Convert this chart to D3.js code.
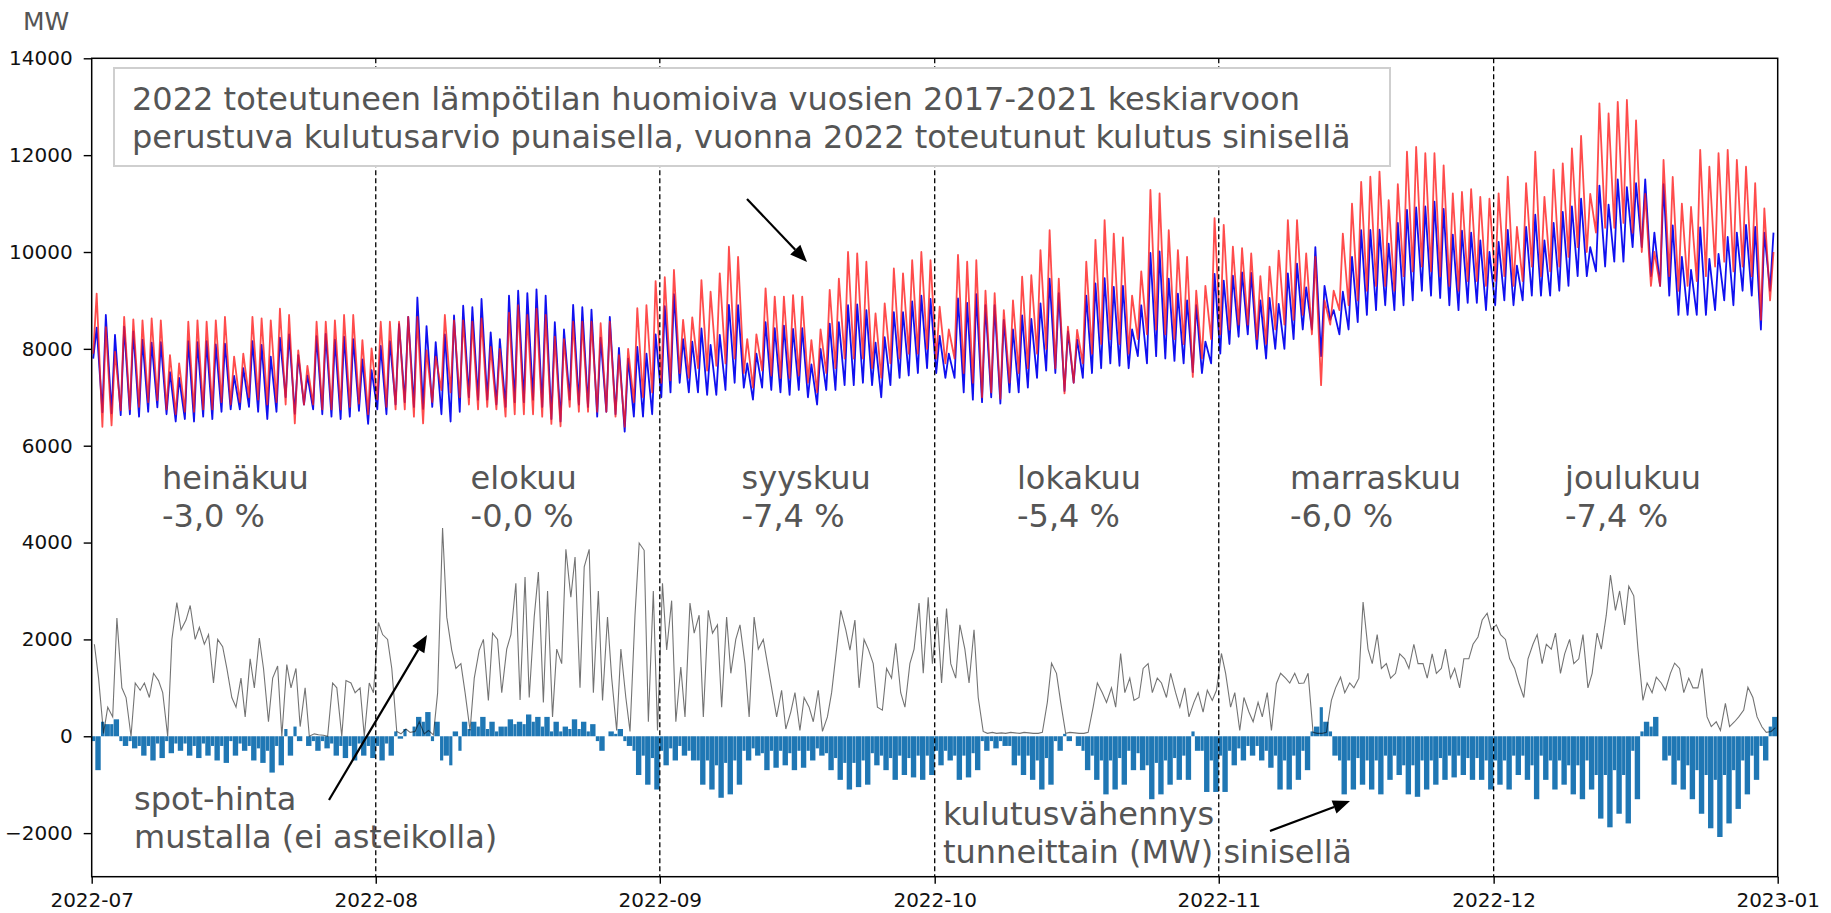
<!DOCTYPE html>
<html>
<head>
<meta charset="utf-8">
<script src="https://cdn.jsdelivr.net/npm/d3@7"></script>
<style>
  body { margin: 0; background: #fff; }
  svg { display: block; }
  text { font-family: "DejaVu Sans", Verdana, sans-serif; }
</style>
</head>
<body>
<svg id="chart" width="1831" height="913"></svg>
<script>
// ---- Data: one entry per day from 2022-07-01 to 2022-12-31 (MW) ----
// Estimate (red): night trough and daytime peak of each day
const estimateLow = [
  7900,6390,6420,6730,6750,6800,6900,6940,6750,6650,6700,6700,6750,6750,6900,6850,6900,7000,6950,6850,6900,6850,6460,6850,6850,6750,6750,6750,6800,6870,6650,
  6950,6800,6750,6750,6600,6460,6900,7150,7100,7000,6850,6750,6800,6750,6600,6650,6650,6650,6600,6450,6400,6800,6700,6700,6700,6700,6600,6390,6900,7000,7100,
  7300,7350,7500,7400,7600,7550,7650,7700,7800,7500,7200,7550,7450,7400,7400,7450,7300,7100,7500,7600,7800,7800,7800,7600,7400,7700,7800,7900,7900,8000,
  7800,7700,7800,7500,7300,7000,7100,6970,7300,7500,7600,7900,8000,7600,7080,7300,7700,7900,8100,8200,8100,7900,8200,8300,8400,8300,8200,8100,7420,7800,8200,
  8300,8400,8500,8500,8200,8100,8400,8500,8600,8700,8300,7250,8500,8800,8900,9000,9200,9300,9300,9200,9500,9600,9700,9600,9500,9300,9200,9400,9400,9300,
  9400,9500,9300,9400,9700,9500,9600,9700,9900,10100,10000,10400,10500,10500,10600,10400,10000,9300,9300,9500,9200,9300,9400,9500,9700,9800,9600,9700,9500,8600,9000
];
const estimateHigh = [
  9140,8450,7940,8660,8610,8590,8630,8590,7870,7700,8560,8590,8560,8590,8660,7840,7900,8660,8630,8590,8830,8700,7970,7650,8560,8560,8590,8700,8700,8180,8010,
  8560,8560,8560,8660,8660,7970,7840,8700,8590,8590,8560,8630,8040,8000,8750,8900,8700,8830,8700,8250,8200,8560,8560,8560,8530,8560,7870,8000,8840,8900,9400,
  9480,9630,8600,8650,9420,9180,9560,10110,9900,8200,8300,9250,9080,9080,9110,9080,8180,8400,9220,9450,10000,9970,9800,8730,8940,9660,9560,9830,10000,9830,
  8870,8400,9940,9800,9830,9200,9150,8800,9000,9490,9520,10040,10450,9450,8460,8390,9800,10250,10660,10380,10300,9100,9600,11280,11210,10450,10040,9900,9200,9300,10700,
  10560,10110,10080,9970,9500,9700,10030,10660,10660,9970,9900,9000,9200,10380,11000,11450,11555,11660,11070,11400,12070,12170,12040,12040,11790,11210,11240,11300,11140,11100,
  11210,11555,10520,11420,12070,11140,11700,11830,12140,12400,11200,13070,12860,13100,13140,12720,11200,10000,11900,11550,11000,10930,12110,11760,12040,12110,11900,11760,11420,10900,10000
];
// Actual consumption (blue): night trough and daytime peak of each day
const actualLow = [
  7800,6690,6670,6630,6650,6600,6700,6790,6650,6500,6550,6500,6600,6550,6700,6750,6750,6800,6700,6550,6700,7000,6660,6850,6750,6650,6600,6550,6600,6720,6450,
  6750,6650,6850,6900,6800,6760,6800,6650,6500,6700,7000,6950,6950,6850,6800,6900,6900,6950,6800,6550,6500,6950,6850,6800,6600,6700,6650,6290,6600,6600,6650,
  7000,7100,7300,7100,7100,7050,7050,7150,7300,7200,6950,7200,7150,7100,7050,7150,7000,6850,7150,7150,7250,7250,7300,7250,7000,7250,7400,7450,7500,7600,
  7500,7400,7400,7100,6950,6900,7000,6870,7100,7100,7200,7400,7550,7500,7130,7300,7400,7500,7600,7700,7650,7600,7850,7700,7850,7800,7750,7700,7520,7500,7700,
  7900,8100,8250,8300,8000,7800,8000,8000,8200,8400,8400,7850,8600,8300,8400,8550,8700,8800,8900,8800,8900,9000,9200,9100,9050,8900,8800,8950,8950,8800,
  8900,9000,8900,9000,9100,9100,9100,9200,9300,9500,9500,9600,9700,9800,9800,10100,10100,9500,9300,9100,8700,8700,8700,8700,8800,9000,8900,9200,9100,8400,9200
];
const actualHigh = [
  8440,8700,8290,8460,8360,8190,8130,8140,7520,7400,8160,8140,8160,8090,8110,7440,7600,8160,8080,7840,8230,8300,7870,7450,8260,8310,8190,8250,8200,7780,7560,
  8060,8160,8510,8660,9060,8470,8140,8300,8690,8890,8860,9030,8340,8200,9100,9200,9150,9230,9100,8550,8400,8910,8860,8810,8230,8660,8020,7800,8040,7900,8300,
  8880,9130,8200,8150,8420,8080,8290,8910,8900,7700,7900,8550,8430,8480,8410,8430,7680,8000,8520,8550,8900,8920,8800,8130,8240,8760,8760,8980,9100,9030,
  8270,7900,9040,8950,9130,8900,8900,8600,8400,8690,8620,8940,9450,9150,8360,8190,9100,9350,9460,9280,9300,8400,8900,9980,10010,9450,9140,9000,8900,8150,9550,
  9410,9510,9580,9570,9000,9050,8930,9560,9760,9270,10100,9300,8800,9180,9900,10450,10455,10460,10170,10600,10870,10920,10940,11040,10890,10360,10440,10400,10240,10000,
  10210,10455,9720,10520,10770,10240,10600,10830,10940,11100,10100,11370,10980,11500,11340,11420,11500,10400,11400,10550,9900,9630,10510,9860,9960,10310,10400,10560,10520,10400,10400
];
// Spot price, drawn on the MW scale (not to scale): night and afternoon level of each day
const spotNight = [
  1900,60,400,1000,0,950,800,1150,0,2760,2400,2000,1900,1100,1850,800,1200,1600,2030,300,1450,1480,1400,1000,50,20,1100,0,1100,1000,1100,
  2350,2000,100,150,100,50,30,4300,1780,1500,120,1780,740,2000,1800,3160,3290,2460,700,400,1500,2870,1000,3860,3000,2460,120,800,2500,3840,3000,
  3160,2800,1430,2750,2500,2600,2300,2460,2000,1500,2460,2000,900,950,500,120,600,950,400,1800,2200,2400,2000,1500,540,1200,900,1500,2750,2870,
  2460,2640,1200,1800,2200,100,80,70,80,60,70,60,700,1300,60,70,60,600,900,1000,1710,1200,800,1500,1200,800,900,1000,700,500,740,
  1710,600,120,500,700,900,1090,1200,1300,1100,80,60,740,1220,1100,1200,1800,2100,1500,1300,1600,1900,1500,1700,1400,1200,1000,1600,2050,2540,
  2300,2000,1400,800,1900,1500,1800,1300,2000,1600,1000,2130,2500,2600,2300,2900,740,900,1100,1300,1400,1200,1000,400,300,680,300,540,800,190,100
];
const spotDay = [
  1200,600,2440,800,1100,1100,1300,900,2000,2200,2700,2250,2100,2000,1400,600,400,1000,1400,1200,0,1000,200,0,30,0,1000,1150,900,0,900,
  2100,1400,50,80,300,120,890,2460,1400,900,1200,2000,2130,900,2100,750,800,3390,3000,1800,3860,3700,3500,900,740,1200,1800,100,3990,300,120,
  1780,300,400,2130,400,2130,600,1300,2300,400,1800,1500,400,150,900,800,300,100,900,2600,1780,1000,1800,600,1400,1920,600,1800,1300,1500,
  1100,1500,2300,1100,800,60,60,60,70,80,60,80,1510,700,80,60,80,1100,700,600,900,740,1400,900,1100,1300,600,400,900,950,950,
  1300,900,800,300,400,120,1300,1100,1090,1300,60,80,1000,900,1000,2770,1500,1400,1200,1700,1400,1500,1200,1300,1800,1400,1600,1900,2400,2200,
  2100,1600,1100,1600,2100,1900,2130,1700,1500,2100,1300,1800,3330,3000,3100,1800,1100,1220,950,1510,900,1000,1400,200,120,200,400,1010,400,80,180
];
const yTicks = [-2000, 0, 2000, 4000, 6000, 8000, 10000, 12000, 14000];
const monthNames = ["heinäkuu", "elokuu", "syyskuu", "lokakuu", "marraskuu", "joulukuu"];
const monthChange = ["-3,0 %", "-0,0 %", "-7,4 %", "-5,4 %", "-6,0 %", "-7,4 %"];
const boxLines = [
  "2022 toteutuneen lämpötilan huomioiva vuosien 2017-2021 keskiarvoon",
  "perustuva kulutusarvio punaisella, vuonna 2022 toteutunut kulutus sinisellä"
];

// ---- Layout ----
const plot = { left: 91.7, right: 1777.7, top: 58.3, bottom: 876.7 };
const DAY = 864e5;
const t0 = Date.UTC(2022, 6, 1);
const tEnd = Date.UTC(2023, 0, 1);
const LOW_T = 4 / 24, HIGH_T = 13 / 24, SPLIT_T = 0.38;
const SPOT_A = 7 / 24, SPOT_B = 18 / 24;
const labelOffsetDays = [7.67, 10.35, 8.92, 8.98, 7.78, 7.79];
const greyText = "#555";

const svg = d3.select("#chart");
const x = d3.scaleUtc().domain([new Date(t0), new Date(tEnd)]).range([plot.left, plot.right]);
const y = d3.scaleLinear().domain([-2900, 14000]).range([plot.bottom, plot.top]);
const at = (d, f) => new Date(t0 + (d + f) * DAY);

svg.append("clipPath").attr("id", "plotClip").append("rect")
  .attr("x", plot.left).attr("y", plot.top)
  .attr("width", plot.right - plot.left).attr("height", plot.bottom - plot.top);
const g = svg.append("g").attr("clip-path", "url(#plotClip)");

// Daily profile series as trough/peak sequence
const estSeries = [], actSeries = [], reduction = [];
estimateLow.forEach((v, i) => {
  estSeries.push([at(i, LOW_T), v], [at(i, HIGH_T), estimateHigh[i]]);
  actSeries.push([at(i, LOW_T), actualLow[i]], [at(i, HIGH_T), actualHigh[i]]);
  reduction.push({ t0: at(i, 0), t1: at(i, SPLIT_T), v: actualLow[i] - v });
  reduction.push({ t0: at(i, SPLIT_T), t1: at(i, 1), v: actualHigh[i] - estimateHigh[i] });
});
const spotSeries = [];
spotNight.forEach((v, i) => spotSeries.push([at(i, SPOT_A), v], [at(i, SPOT_B), spotDay[i]]));

const line = d3.line().x(d => x(d[0])).y(d => y(d[1]));

g.append("path").datum(actSeries).attr("d", line)
  .attr("fill", "none").attr("stroke", "#1010f0").attr("stroke-width", 1.8)
  .attr("stroke-linejoin", "round");
g.append("path").datum(estSeries).attr("d", line)
  .attr("fill", "none").attr("stroke", "#ff1a1a").attr("stroke-opacity", 0.78).attr("stroke-width", 1.8)
  .attr("stroke-linejoin", "round");

// Consumption reduction bars (actual minus estimate)
g.append("g").selectAll("rect").data(reduction).join("rect")
  .attr("x", d => x(d.t0) + 0.15)
  .attr("width", d => Math.max(0.5, x(d.t1) - x(d.t0) - 0.3))
  .attr("y", d => y(Math.max(0, d.v)))
  .attr("height", d => Math.abs(y(d.v) - y(0)))
  .attr("fill", "#1f77b4");

// Spot price
g.append("path").datum(spotSeries).attr("d", line)
  .attr("fill", "none").attr("stroke", "#000").attr("stroke-opacity", 0.55).attr("stroke-width", 1.1);

// Month boundaries
const months = d3.utcMonth.range(new Date(t0), new Date(tEnd + 1));
svg.append("g").selectAll("line").data(months.slice(1, -1)).join("line")
  .attr("x1", d => x(d)).attr("x2", d => x(d))
  .attr("y1", plot.top).attr("y2", plot.bottom)
  .attr("stroke", "#000").attr("stroke-width", 1.3).attr("stroke-dasharray", "5,3");

// Axes
const xAxis = d3.axisBottom(x).tickValues(months).tickFormat(d3.utcFormat("%Y-%m"))
  .tickSize(7).tickPadding(9);
const yAxis = d3.axisLeft(y).tickValues(yTicks).tickFormat(d3.format("d"))
  .tickSize(8).tickPadding(11);
const gx = svg.append("g").attr("transform", `translate(0,${plot.bottom})`).call(xAxis);
const gy = svg.append("g").attr("transform", `translate(${plot.left},0)`).call(yAxis);
[gx, gy].forEach(a => {
  a.select(".domain").remove();
  a.selectAll(".tick line").attr("stroke", "#000").attr("stroke-width", 1.4);
  a.selectAll(".tick text").attr("font-size", 20).attr("fill", "#111")
    .attr("font-family", "DejaVu Sans, sans-serif");
});

svg.append("rect").attr("x", plot.left).attr("y", plot.top)
  .attr("width", plot.right - plot.left).attr("height", plot.bottom - plot.top)
  .attr("fill", "none").attr("stroke", "#000").attr("stroke-width", 1.5);

// Unit label
svg.append("text").attr("x", 23).attr("y", 30).attr("font-size", 25)
  .attr("fill", greyText).text("MW");

// Explanation box
svg.append("rect").attr("x", 114).attr("y", 68).attr("width", 1276).attr("height", 98)
  .attr("fill", "#fff").attr("stroke", "#cfcfcf").attr("stroke-width", 2);
boxLines.forEach((s, i) => {
  svg.append("text").attr("x", 132).attr("y", 110 + i * 38).attr("font-size", 32)
    .attr("fill", greyText).text(s);
});

// Monthly change labels
months.slice(0, 6).forEach((m, i) => {
  const lx = x(new Date(+m + labelOffsetDays[i] * DAY));
  svg.append("text").attr("x", lx).attr("y", 489).attr("font-size", 32)
    .attr("fill", greyText).text(monthNames[i]);
  svg.append("text").attr("x", lx).attr("y", 527).attr("font-size", 32)
    .attr("fill", greyText).text(monthChange[i]);
});

// Notes
const notes = [
  { x: 134, y: 810, s: "spot-hinta" },
  { x: 134, y: 848, s: "mustalla (ei asteikolla)" },
  { x: 943, y: 825, s: "kulutusvähennys" },
  { x: 943, y: 863, s: "tunneittain (MW) sinisellä" }
];
notes.forEach(n => svg.append("text").attr("x", n.x).attr("y", n.y)
  .attr("font-size", 32).attr("fill", greyText).text(n.s));

// Arrows
function arrow(x1, y1, x2, y2) {
  const a = Math.atan2(y2 - y1, x2 - x1), L = 17, Wd = 7;
  const bx = x2 - L * Math.cos(a), by = y2 - L * Math.sin(a);
  svg.append("line").attr("x1", x1).attr("y1", y1).attr("x2", bx).attr("y2", by)
    .attr("stroke", "#000").attr("stroke-width", 2.2);
  const px = -Math.sin(a) * Wd, py = Math.cos(a) * Wd;
  svg.append("path")
    .attr("d", `M${x2},${y2}L${bx + px},${by + py}L${bx - px},${by - py}Z`)
    .attr("fill", "#000");
}
arrow(747, 199, 807, 262);
arrow(329, 800, 427, 635);
arrow(1270, 831, 1350, 801);
</script>
</body>
</html>
